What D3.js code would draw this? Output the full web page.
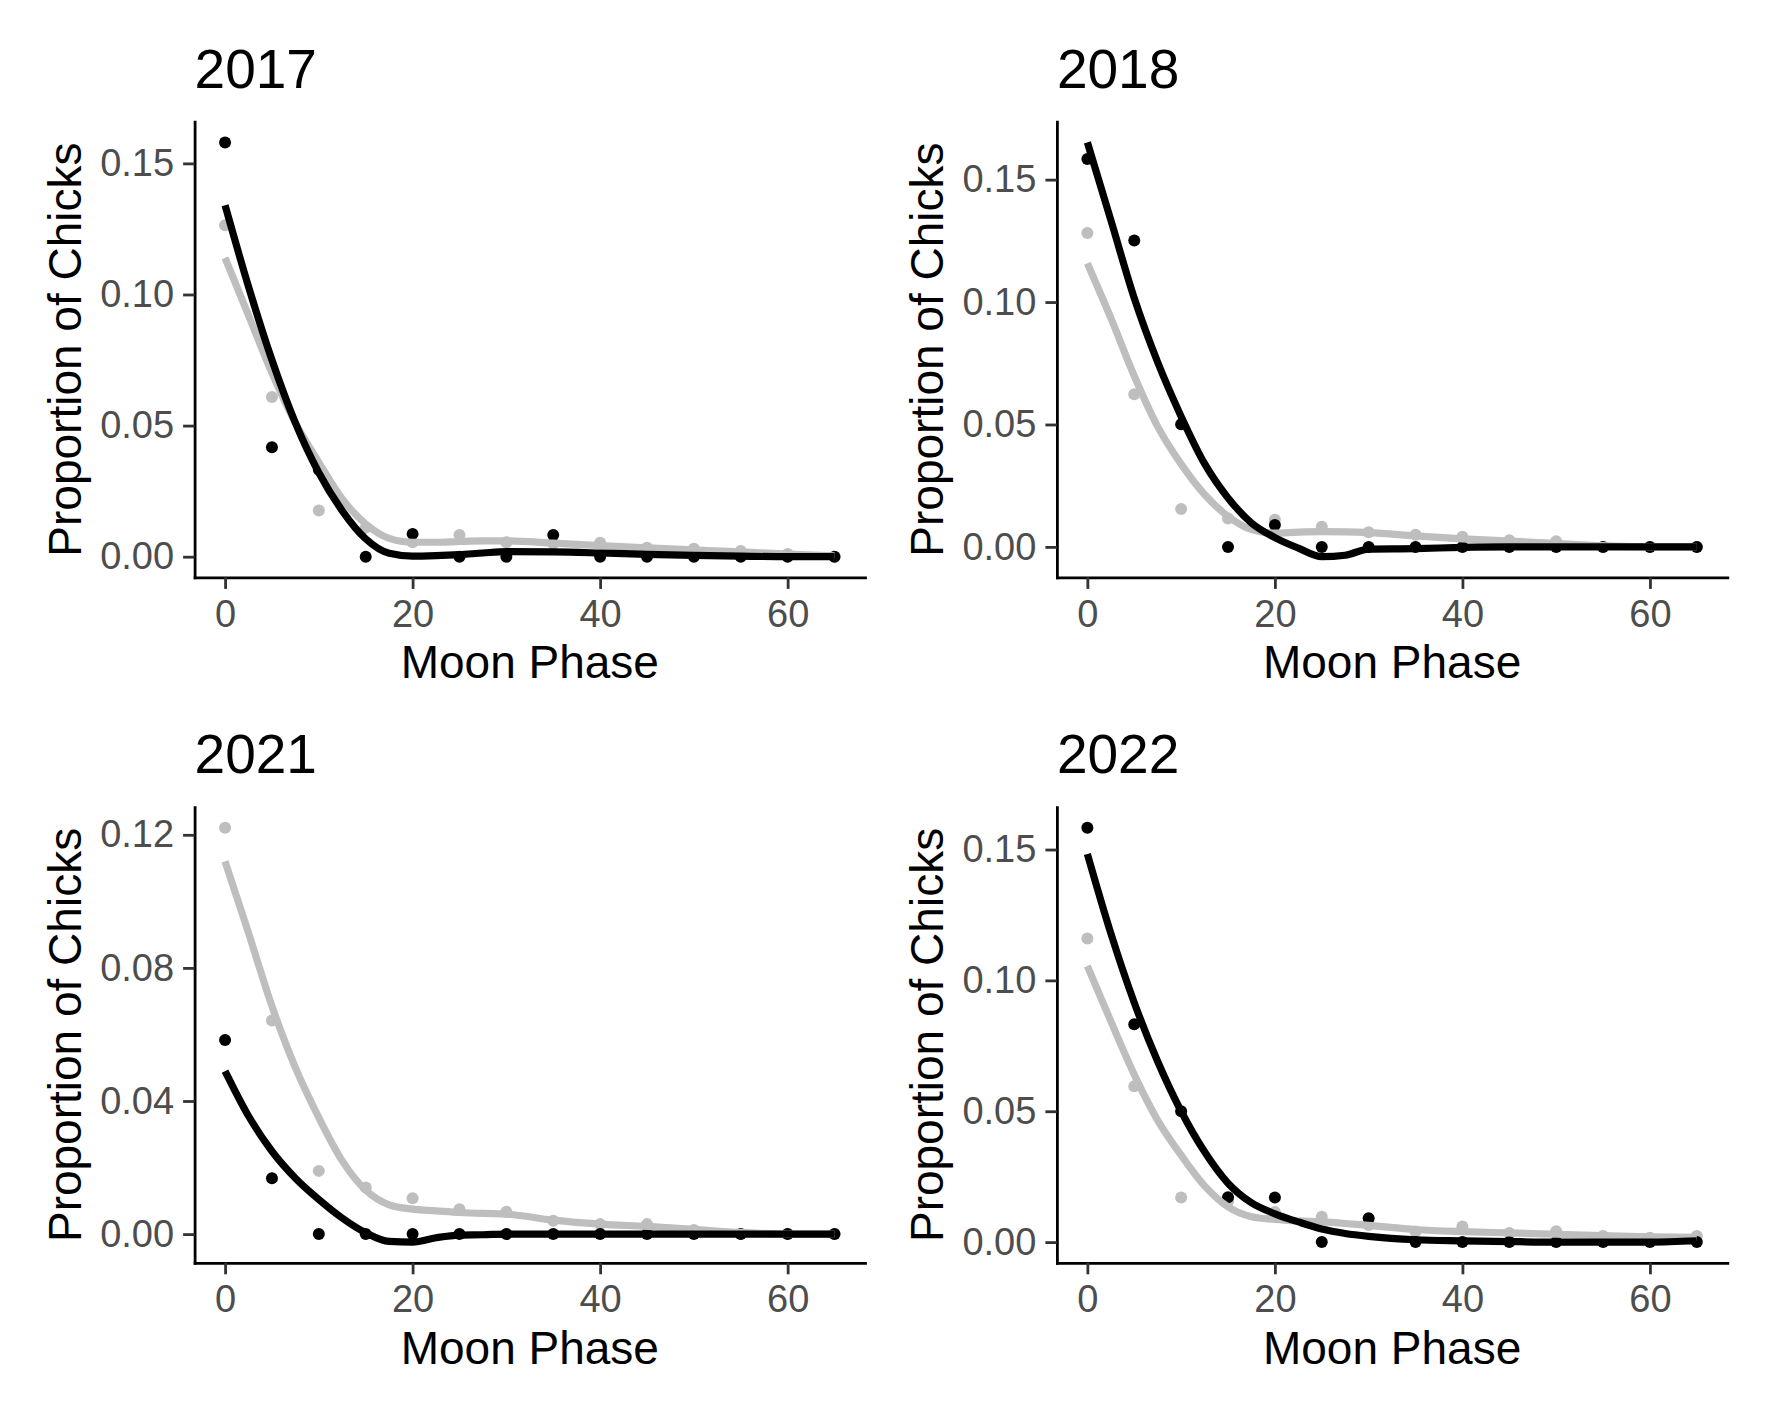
<!DOCTYPE html>
<html>
<head>
<meta charset="utf-8">
<title>Proportion of Chicks by Moon Phase</title>
<script src="https://cdn.jsdelivr.net/npm/d3@7"></script>
<style>
  html, body { margin: 0; padding: 0; background: #fff; }
  svg { display: block; }
</style>
</head>
<body>
<div id="chart"></div>
<script>
/* global d3 */

// moon phase of the observed points, and of the fitted (smooth) curves
var moonPhase = [0, 5, 10, 15, 20, 25, 30, 35, 40, 45, 50, 55, 60, 65];
var fitPhase = [0, 2.5, 5, 7.5, 10, 12.5, 15, 17.5, 20, 22.5, 25, 27.5, 30, 35, 40, 45, 50, 55, 60, 65];

var years = ["2017", "2018", "2021", "2022"];
var xTicks = [0, 20, 40, 60];

// 2017
var black2017 = [0.158, 0.0417, 0.0332, 0, 0.0087, 0, 0, 0.0083, 0, 0, 0, 0, 0, 0];
var grey2017 = [0.1264, 0.0609, 0.0176, 0.011, 0.0055, 0.0083, 0.0055, 0.005, 0.0053, 0.0034, 0.003, 0.0022, 0.001, 0];
var blackFit2017 = [0.134, 0.103, 0.075, 0.051, 0.032, 0.0175, 0.0068, 0.0013, 0.0002, 0.0004, 0.0008, 0.0014, 0.0019, 0.0018, 0.0014, 0.0009, 0.0005, 0.0002, 0, 0];
var greyFit2017 = [0.114, 0.092, 0.070, 0.051, 0.036, 0.022, 0.0125, 0.007, 0.0055, 0.0055, 0.0058, 0.006, 0.006, 0.0052, 0.0042, 0.0034, 0.0026, 0.0018, 0.001, 0.0003];
var yTicks2017 = [0, 0.05, 0.10, 0.15];

// 2018
var black2018 = [0.1584, 0.1251, 0.0501, 0, 0.0089, 0, 0, 0, 0, 0, 0, 0, 0, 0];
var grey2018 = [0.1282, 0.0623, 0.0155, 0.0116, 0.0111, 0.0082, 0.006, 0.005, 0.0041, 0.0027, 0.0023, 0, 0, 0];
var blackFit2018 = [0.1652, 0.1335, 0.1016, 0.0754, 0.0533, 0.034, 0.020, 0.0098, 0.0038, -0.0005, -0.0040, -0.0034, -0.0009, -0.0007, -0.0002, 0, 0, 0, 0, 0];
var greyFit2018 = [0.1158, 0.0935, 0.0698, 0.0491, 0.0338, 0.0214, 0.0125, 0.0071, 0.0056, 0.006, 0.0062, 0.0061, 0.0058, 0.0045, 0.0033, 0.0024, 0.0014, 0.0005, 0, 0];
var yTicks2018 = [0, 0.05, 0.10, 0.15];

// 2021
var black2021 = [0.0583, 0.0168, 0, 0, 0, 0, 0, 0, 0, 0, 0, 0, 0, 0];
var grey2021 = [0.1221, 0.0642, 0.019, 0.014, 0.0108, 0.0075, 0.0067, 0.004, 0.003, 0.003, 0.0012, 0, 0, 0];
var blackFit2021 = [0.049, 0.0355, 0.0249, 0.0168, 0.0104, 0.0048, 0.0004, -0.0022, -0.0024, -0.0011, -0.0003, -0.0002, 0, 0, 0, 0, 0, 0, 0, 0];
var greyFit2021 = [0.112, 0.0905, 0.0685, 0.050, 0.035, 0.022, 0.0132, 0.0088, 0.0075, 0.007, 0.0065, 0.0062, 0.006, 0.0042, 0.003, 0.0023, 0.0014, 0.0005, 0, 0];
var yTicks2021 = [0, 0.04, 0.08, 0.12];

// 2022
var black2022 = [0.1583, 0.0832, 0.05, 0.0171, 0.017, 0, 0.0091, 0, 0, 0, 0, 0, 0, 0];
var grey2022 = [0.116, 0.0595, 0.017, 0.0155, 0.0115, 0.0097, 0.0065, 0.004, 0.006, 0.0035, 0.0041, 0.0023, 0.0017, 0.0023];
var blackFit2022 = [0.1483, 0.118, 0.0915, 0.069, 0.050, 0.0345, 0.0225, 0.015, 0.0108, 0.0077, 0.005, 0.0033, 0.0022, 0.0009, 0.0005, 0.0002, 0, 0, 0, 0.0005];
var greyFit2022 = [0.1055, 0.0844, 0.064, 0.0465, 0.0332, 0.0215, 0.0135, 0.0097, 0.0087, 0.0081, 0.0077, 0.0071, 0.0064, 0.0048, 0.004, 0.0035, 0.003, 0.0025, 0.002, 0.0018];
var yTicks2022 = [0, 0.05, 0.10, 0.15];

var panels = [
  { "year": years[0], "black": black2017, "grey": grey2017, "blackFit": blackFit2017, "greyFit": greyFit2017, "ticks": yTicks2017 },
  { "year": years[1], "black": black2018, "grey": grey2018, "blackFit": blackFit2018, "greyFit": greyFit2018, "ticks": yTicks2018 },
  { "year": years[2], "black": black2021, "grey": grey2021, "blackFit": blackFit2021, "greyFit": greyFit2021, "ticks": yTicks2021 },
  { "year": years[3], "black": black2022, "grey": grey2022, "blackFit": blackFit2022, "greyFit": greyFit2022, "ticks": yTicks2022 }
];

(function () {

  "use strict";

  var width = 1771,
      height = 1417,
      panelW = 670.4,
      panelH = 455.7,
      colLeft = [194.6, 1056.9],
      rowTop = [121.7, 807.1],
      font = "'Liberation Sans', Arial, Helvetica, sans-serif",
      black = "#000000",
      grey = "#BEBEBE";

  var svg = d3.select("#chart").append("svg")
    .attr("width", width)
    .attr("height", height);

  svg.append("rect")
    .attr("width", width)
    .attr("height", height)
    .attr("fill", "#ffffff");

  // ggplot style: 5% padding on both ends of the data range
  function expand(values) {
    var ext = d3.extent(values),
        pad = (ext[1] - ext[0]) * 0.05;
    return [ext[0] - pad, ext[1] + pad];
  }

  function styleAxis(axisG) {
    axisG.attr("font-size", null).attr("font-family", null);
    axisG.select(".domain")
      .attr("stroke", black)
      .attr("stroke-width", 2.8)
      .attr("stroke-linecap", "square");
    axisG.selectAll(".tick line")
      .attr("stroke", "#333333")
      .attr("stroke-width", 2.8);
    axisG.selectAll(".tick text")
      .attr("fill", "#4D4D4D")
      .style("font-family", font)
      .style("font-size", "38px");
  }

  function drawPanel(p, i) {

    var left = colLeft[i % 2],
        top = rowTop[Math.floor(i / 2)];

    var x = d3.scaleLinear()
      .domain(expand(moonPhase))
      .range([0, panelW]);

    var y = d3.scaleLinear()
      .domain(expand([].concat(p.black, p.grey, p.blackFit, p.greyFit)))
      .range([panelH, 0]);

    var g = svg.append("g")
      .attr("transform", "translate(" + left + "," + top + ")");

    var line = d3.line()
      .x(function (d) { return x(d[0]); })
      .y(function (d) { return y(d[1]); })
      .curve(d3.curveMonotoneX);

    // points first, smooth curves on top
    [["grey", grey], ["black", black]].forEach(function (s) {
      g.append("g").selectAll("circle")
        .data(moonPhase.map(function (m, j) { return [m, p[s[0]][j]]; }))
        .enter().append("circle")
        .attr("cx", function (d) { return x(d[0]); })
        .attr("cy", function (d) { return y(d[1]); })
        .attr("r", 6)
        .attr("fill", s[1]);
    });

    [["greyFit", grey], ["blackFit", black]].forEach(function (s) {
      g.append("path")
        .datum(fitPhase.map(function (m, j) { return [m, p[s[0]][j]]; }))
        .attr("d", line)
        .attr("fill", "none")
        .attr("stroke", s[1])
        .attr("stroke-width", 7.2)
        .attr("stroke-linejoin", "round");
    });

    var yAxis = g.append("g")
      .call(d3.axisLeft(y)
        .tickValues(p.ticks)
        .tickFormat(d3.format(".2f"))
        .tickSize(11.5)
        .tickSizeOuter(0)
        .tickPadding(9));
    styleAxis(yAxis);

    var xAxis = g.append("g")
      .attr("transform", "translate(0," + panelH + ")")
      .call(d3.axisBottom(x)
        .tickValues(xTicks)
        .tickFormat(d3.format("d"))
        .tickSize(11.5)
        .tickSizeOuter(0)
        .tickPadding(11));
    styleAxis(xAxis);

    svg.append("text")
      .attr("x", left)
      .attr("y", top - 34)
      .style("font-family", font)
      .style("font-size", "55px")
      .attr("fill", black)
      .text(p.year);

    g.append("text")
      .attr("x", panelW / 2)
      .attr("y", panelH + 101)
      .attr("text-anchor", "middle")
      .style("font-family", font)
      .style("font-size", "46px")
      .attr("fill", black)
      .text("Moon Phase");

    g.append("text")
      .attr("transform", "translate(-114," + (panelH / 2) + ") rotate(-90)")
      .attr("text-anchor", "middle")
      .style("font-family", font)
      .style("font-size", "46px")
      .attr("fill", black)
      .text("Proportion of Chicks");
  }

  panels.forEach(drawPanel);

})();
</script>
</body>
</html>
